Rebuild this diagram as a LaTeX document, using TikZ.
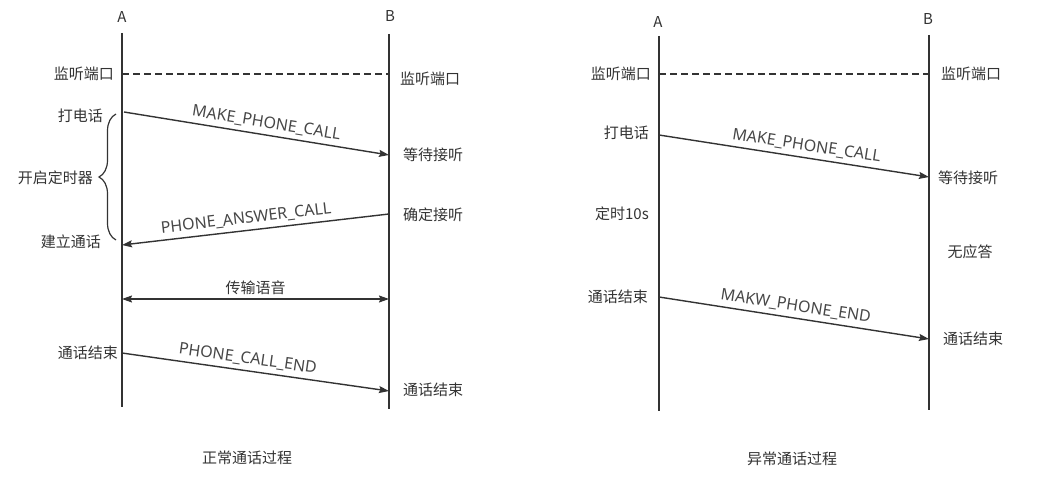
\documentclass[tikz,border=0pt]{standalone}
\usepackage{fontspec}
\setmainfont{Noto Sans CJK SC}
\newfontfamily\msgfont{Noto Sans}
\usetikzlibrary{arrows.meta,decorations.pathreplacing}
\definecolor{ink}{HTML}{333333}
\tikzset{
  >={Stealth[length=10pt,width=7pt,inset=1.5pt]},
  life/.style={draw=ink,line width=1.7pt},
  listen/.style={draw=ink,line width=1.4pt,dash pattern=on 7pt off 4pt},
  msg/.style={->,draw=ink,line width=1.4pt},
  both/.style={<->,draw=ink,line width=1.4pt},
  lbl/.style={font=\fontsize{15}{17}\selectfont,text=ink,inner sep=0pt},
  mlbl/.style={font=\msgfont\fontsize{16}{18}\selectfont,text=ink!90,
    sloped,above,inner sep=4pt},
  caption/.style={lbl},
  curly/.style={draw=ink,line width=1.2pt,
    decorate,decoration={brace,amplitude=17pt}},
}

\begin{document}
\begin{tikzpicture}[x=1pt,y=-1pt]
  \useasboundingbox (0,0) rectangle (1039,481);

  % ---- normal call ----
  \node[lbl] (nA) at (122,17) {A};
  \node[lbl] (nB) at (390,16) {B};
  \coordinate (nAtop) at (122,33);  \coordinate (nAbot) at (122,407);
  \coordinate (nBtop) at (389,34);  \coordinate (nBbot) at (389,409);
  \draw[life] (nAtop) -- (nAbot);
  \draw[life] (nBtop) -- (nBbot);

  \coordinate (nA1) at (122,74);  \coordinate (nB1) at (389,74);
  \draw[listen] (nA1) -- (nB1);
  \node[lbl,anchor=east] (nListenA) at (114,74) {监听端口};
  \node[lbl,anchor=west] (nListenB) at (400,79) {监听端口};

  \coordinate (nA2) at (124,112);  \coordinate (nB2) at (389,155);
  \draw[msg] (nA2) -- (nB2) node[mlbl,pos=0.53] (nMake) {MAKE\_PHONE\_CALL};
  \node[lbl,anchor=east] (nDial) at (103,116) {打电话};
  \node[lbl,anchor=west] (nWait) at (403,155) {等待接听};

  \coordinate (nBrTop) at (116,114);  \coordinate (nBrBot) at (116,240);
  \draw[curly] (nBrBot) -- (nBrTop);
  \node[lbl,anchor=east] (nTimer) at (93,178) {开启定时器};

  \coordinate (nB3) at (389,214);  \coordinate (nA3) at (122,245);
  \draw[msg] (nB3) -- (nA3) node[mlbl,pos=0.53] (nAnswer) {PHONE\_ANSWER\_CALL};
  \node[lbl,anchor=west] (nConfirm) at (403,215) {确定接听};
  \node[lbl,anchor=east] (nSetup) at (101,242) {建立通话};

  \coordinate (nA4) at (122,299);  \coordinate (nB4) at (389,299);
  \draw[both] (nA4) -- (nB4) node[lbl,midway,above,inner sep=4pt] (nVoice) {传输语音};

  \coordinate (nA5) at (122,353);  \coordinate (nB5) at (389,391);
  \draw[msg] (nA5) -- (nB5) node[mlbl,pos=0.465] (nEnd) {PHONE\_CALL\_END};
  \node[lbl,anchor=east] (nEndA) at (118,353) {通话结束};
  \node[lbl,anchor=west] (nEndB) at (403,390) {通话结束};

  \node[caption] (nTitle) at (247,458) {正常通话过程};

  % ---- abnormal call ----
  \node[lbl] (xA) at (658,22) {A};
  \node[lbl] (xB) at (928,19) {B};
  \coordinate (xAtop) at (659,36);  \coordinate (xAbot) at (659,411);
  \coordinate (xBtop) at (929,35);  \coordinate (xBbot) at (929,410);
  \draw[life] (xAtop) -- (xAbot);
  \draw[life] (xBtop) -- (xBbot);

  \coordinate (xA1) at (659,74);  \coordinate (xB1) at (929,74);
  \draw[listen] (xA1) -- (xB1);
  \node[lbl,anchor=east] (xListenA) at (651,74) {监听端口};
  \node[lbl,anchor=west] (xListenB) at (941,74) {监听端口};

  \coordinate (xA2) at (659,135);  \coordinate (xB2) at (929,177);
  \draw[msg] (xA2) -- (xB2) node[mlbl,pos=0.54] (xMake) {MAKE\_PHONE\_CALL};
  \node[lbl,anchor=east] (xDial) at (649,133) {打电话};
  \node[lbl,anchor=west] (xWait) at (938,178) {等待接听};

  \node[lbl,anchor=east] (xTimer) at (649,214) {定时10s};
  \node[lbl] (xNoAns) at (970,252) {无应答};

  \coordinate (xA3) at (659,297);  \coordinate (xB3) at (929,339);
  \draw[msg] (xA3) -- (xB3) node[mlbl,pos=0.5] (xEnd) {MAKW\_PHONE\_END};
  \node[lbl,anchor=east] (xEndA) at (648,297) {通话结束};
  \node[lbl,anchor=west] (xEndB) at (943,339) {通话结束};

  \node[caption] (xTitle) at (792,459) {异常通话过程};
\end{tikzpicture}
\end{document}
